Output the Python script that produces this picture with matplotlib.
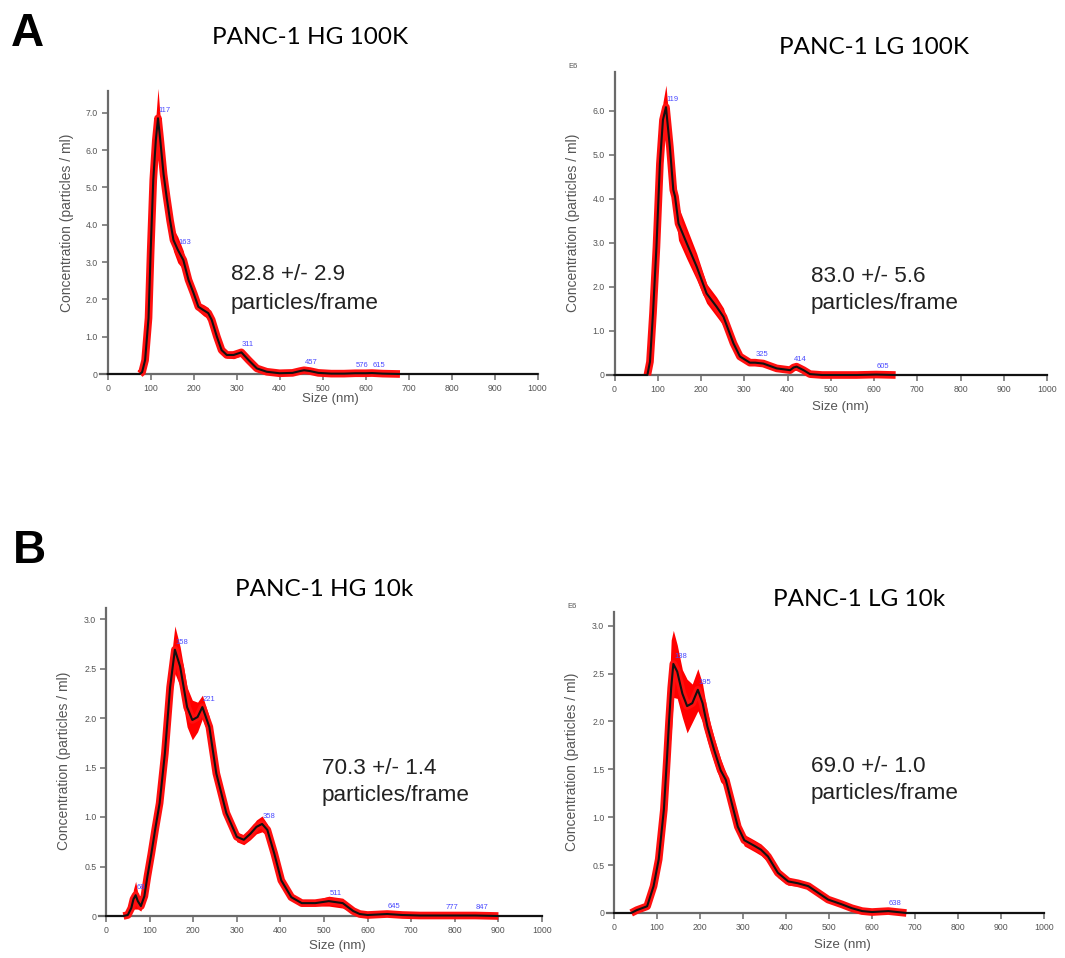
import numpy as np
import matplotlib
matplotlib.use("Agg")
import matplotlib.pyplot as plt
from matplotlib.ticker import FuncFormatter, MultipleLocator

W, H = 1065, 958

# ---------------- data ----------------
# PANC-1 HG 100K
hg100_size = [0, 60, 75, 80, 87, 95, 100, 106, 112, 117, 122, 130, 137, 145, 153, 163,
              176, 188, 200, 211, 223, 234, 242, 254, 265, 277, 293, 311, 328, 347, 370,
              400, 430, 448, 457, 470, 490, 520, 550, 576, 600, 615, 640, 680, 1000]
hg100_conc = [0, 0, 0.0, 0.05, 0.37, 1.5, 3.3, 5.2, 6.27, 6.85, 6.3, 5.35, 4.75, 4.12, 3.59, 3.33,
              3.05, 2.52, 2.16, 1.80, 1.71, 1.63, 1.45, 1.0, 0.64, 0.51, 0.51, 0.58, 0.37, 0.15, 0.06,
              0.02, 0.03, 0.08, 0.1, 0.08, 0.03, 0.01, 0.01, 0.02, 0.02, 0.025, 0.01, 0.0, 0]
hg100_err = [0, 0, 0, 0.05, 0.1, 0.15, 0.25, 0.4, 0.6, 0.8, 0.6, 0.3, 0.25, 0.25, 0.3, 0.35,
             0.25, 0.15, 0.12, 0.12, 0.15, 0.15, 0.15, 0.1, 0.08, 0.08, 0.1, 0.1, 0.08, 0.05, 0.03,
             0.02, 0.02, 0.03, 0.03, 0.03, 0.02, 0.01, 0.01, 0.01, 0.01, 0.01, 0.01, 0, 0]
hg100_peaks = [117, 163, 311, 457, 576, 615]

# PANC-1 LG 100K
lg100_size = [0, 60, 76, 82, 89, 97, 105, 112, 119, 128, 136, 140, 148, 167, 190, 213,
              236, 252, 275, 290, 313, 325, 344, 375, 406, 414, 421, 437, 452, 480, 560,
              605, 650, 1000]
lg100_conc = [0, 0, 0.0, 0.3, 1.4, 2.91, 4.8, 5.79, 6.08, 5.18, 4.2, 4.05, 3.44, 2.99, 2.46, 1.85,
              1.55, 1.32, 0.72, 0.42, 0.28, 0.28, 0.26, 0.15, 0.11, 0.17, 0.19, 0.11, 0.02, 0.0, 0.0,
              0.01, 0.0, 0]
lg100_err = [0, 0, 0, 0.08, 0.15, 0.2, 0.3, 0.4, 0.5, 0.4, 0.35, 0.35, 0.38, 0.35, 0.3, 0.22,
             0.22, 0.2, 0.1, 0.06, 0.05, 0.05, 0.05, 0.04, 0.04, 0.04, 0.04, 0.03, 0.02, 0, 0,
             0.01, 0, 0]
lg100_peaks = [119, 325, 414, 605]

# PANC-1 HG 10k
hg10_size = [0, 40, 50, 58, 63, 68, 73, 80, 88, 95, 104, 113, 123, 135, 147, 158, 170, 186,
             198, 210, 221, 237, 253, 276, 300, 316, 331, 345, 358, 370, 386, 402, 425, 449,
             480, 511, 543, 567, 582, 600, 645, 680, 720, 777, 847, 900, 1000]
hg10_conc = [0, 0, 0.01, 0.08, 0.17, 0.21, 0.15, 0.1, 0.2, 0.4, 0.63, 0.88, 1.14, 1.64, 2.31, 2.69, 2.52, 2.11,
             1.98, 2.01, 2.11, 1.91, 1.44, 1.04, 0.80, 0.77, 0.83, 0.9, 0.93, 0.87, 0.63, 0.36, 0.19, 0.13,
             0.13, 0.15, 0.13, 0.05, 0.02, 0.01, 0.02, 0.01, 0.005, 0.005, 0.005, 0.0, 0]
hg10_err = [0, 0, 0.01, 0.04, 0.1, 0.14, 0.08, 0.05, 0.05, 0.06, 0.06, 0.07, 0.08, 0.12, 0.2, 0.24, 0.2, 0.2,
            0.2, 0.15, 0.12, 0.1, 0.08, 0.06, 0.05, 0.05, 0.06, 0.07, 0.08, 0.06, 0.05, 0.04, 0.03, 0.03,
            0.03, 0.05, 0.05, 0.02, 0.01, 0.01, 0.01, 0.005, 0.005, 0.005, 0.005, 0, 0]
hg10_peaks = [68, 158, 221, 358, 511, 645, 777, 847]

# PANC-1 LG 10k
lg10_size = [0, 40, 53, 77, 92, 104, 116, 123, 128, 133, 138, 147, 159, 170, 182, 195, 206, 217,
             233, 248, 260, 272, 288, 303, 327, 342, 358, 381, 405, 428, 452, 475, 498, 530,
             553, 577, 600, 638, 680, 1000]
lg10_conc = [0, 0, 0.03, 0.07, 0.28, 0.56, 1.08, 1.6, 2.0, 2.35, 2.6, 2.52, 2.29, 2.16, 2.19, 2.33, 2.19, 1.95,
             1.70, 1.49, 1.39, 1.18, 0.90, 0.76, 0.70, 0.66, 0.59, 0.42, 0.33, 0.31, 0.28, 0.21, 0.14, 0.09,
             0.05, 0.02, 0.01, 0.02, 0.0, 0]
lg10_err = [0, 0, 0.02, 0.03, 0.05, 0.06, 0.08, 0.12, 0.3, 0.5, 0.35, 0.28, 0.25, 0.28, 0.2, 0.22, 0.2, 0.15,
            0.13, 0.12, 0.08, 0.07, 0.06, 0.06, 0.06, 0.06, 0.06, 0.05, 0.04, 0.03, 0.03, 0.03, 0.03, 0.02,
            0.02, 0.01, 0.01, 0.01, 0, 0]
lg10_peaks = [138, 195, 638]

panels = [
    dict(title="PANC-1 HG 100K", stats=("82.8 +/- 2.9", "particles/frame"),
         size=hg100_size, conc=hg100_conc, err=hg100_err, peaks=hg100_peaks, step=1.0, e6=False,
         x0=107.7, x1=537.5, y0=374, ppu=37.33, top=91,
         title_xy=(310, 37), stats_xy=(231, 275, 303), ylab=(67, 223), xlab=(330, 399)),
    dict(title="PANC-1 LG 100K", stats=("83.0 +/- 5.6", "particles/frame"),
         size=lg100_size, conc=lg100_conc, err=lg100_err, peaks=lg100_peaks, step=1.0, e6=True,
         x0=614.5, x1=1047, y0=375, ppu=44.05, top=72,
         title_xy=(874, 48), stats_xy=(811, 277, 304), ylab=(573, 223), xlab=(840, 407),
         e6_xy=(573, 67)),
    dict(title="PANC-1 HG 10k", stats=("70.3 +/- 1.4", "particles/frame"),
         size=hg10_size, conc=hg10_conc, err=hg10_err, peaks=hg10_peaks, step=0.5, e6=False,
         x0=106, x1=542, y0=916, ppu=99.0, top=608,
         title_xy=(324, 590), stats_xy=(322, 768, 795), ylab=(64, 761), xlab=(337, 946)),
    dict(title="PANC-1 LG 10k", stats=("69.0 +/- 1.0", "particles/frame"),
         size=lg10_size, conc=lg10_conc, err=lg10_err, peaks=lg10_peaks, step=0.5, e6=True,
         x0=614, x1=1044, y0=913, ppu=95.8, top=612,
         title_xy=(859, 600), stats_xy=(811, 767, 794), ylab=(572, 762), xlab=(842, 945),
         e6_xy=(572, 607)),
]

AX_GREY = "#6a6a6a"
TXT_GREY = "#555555"
XMIN = -17

fig = plt.figure(figsize=(W / 100, H / 100), dpi=100)
fig.patch.set_facecolor("white")


def fx(px):
    return px / W


def fy(py):
    return 1 - py / H


def fmt_y(v, _):
    if abs(v) < 1e-9:
        return "0"
    return f"{v:.1f}"


for p in panels:
    k = (p["x1"] - p["x0"]) / 1000.0
    left_px = p["x0"] + XMIN * k
    ytop = (p["y0"] - p["top"]) / p["ppu"]
    ax = fig.add_axes([fx(left_px), fy(p["y0"]),
                       (p["x1"] - left_px) / W, (p["y0"] - p["top"]) / H])
    ax.set_xlim(XMIN, 1000)
    ax.set_ylim(0, ytop)

    size = np.array(p["size"], float)
    conc = np.array(p["conc"], float)
    err = np.array(p["err"], float)

    # red spread of the repeat measurements, then the mean curve on top
    ax.fill_between(size, conc - err, conc + err, color="#ff0000", lw=0,
                    clip_on=False, zorder=2)
    nonzero = conc > 0
    keep = nonzero | np.r_[nonzero[1:], False] | np.r_[False, nonzero[:-1]]
    red = np.where(keep, conc, np.nan)
    ax.plot(size, red, color="#ff1010", lw=5.5, solid_capstyle="butt",
            solid_joinstyle="round", clip_on=False, zorder=3)
    ax.plot(size, conc, color="#111111", lw=1.5, solid_joinstyle="round",
            clip_on=False, zorder=4)

    for pk in p["peaks"]:
        i = p["size"].index(pk)
        ax.annotate(str(pk), (pk, p["conc"][i]), xytext=(0.5, 3),
                    textcoords="offset points", ha="left", va="bottom",
                    fontsize=5.5, color="#4a4aff", family="Liberation Sans", zorder=5)

    for s in ("top", "right"):
        ax.spines[s].set_visible(False)
    ax.spines["left"].set_position(("data", 0))
    for s in ("left", "bottom"):
        ax.spines[s].set_color(AX_GREY)
        ax.spines[s].set_linewidth(1.6)
    ax.xaxis.set_major_locator(MultipleLocator(100))
    ax.yaxis.set_major_locator(MultipleLocator(p["step"]))
    ax.yaxis.set_major_formatter(FuncFormatter(fmt_y))
    ax.tick_params(axis="both", direction="out", length=4, width=1.1, color=AX_GREY,
                   labelsize=6.3, labelcolor=TXT_GREY, pad=3)
    for lab in ax.get_xticklabels() + ax.get_yticklabels():
        lab.set_family("Liberation Sans")
    ax.patch.set_alpha(0)

    fig.text(fx(p["ylab"][0]), fy(p["ylab"][1]), "Concentration (particles / ml)",
             rotation=90, ha="center", va="center", fontsize=10, color=TXT_GREY,
             family="Liberation Sans")
    fig.text(fx(p["xlab"][0]), fy(p["xlab"][1]), "Size (nm)", ha="center", va="center",
             fontsize=9.5, color=TXT_GREY, family="Liberation Sans")
    fig.text(fx(p["title_xy"][0]), fy(p["title_xy"][1]), p["title"], ha="center",
             va="center", fontsize=17.5, color="black", family="Lato")
    sx, sy1, sy2 = p["stats_xy"]
    fig.text(fx(sx), fy(sy1), p["stats"][0], ha="left", va="center",
             fontsize=16.2, color="#222222", family="Liberation Sans")
    fig.text(fx(sx), fy(sy2), p["stats"][1], ha="left", va="center",
             fontsize=16.2, color="#222222", family="Liberation Sans")
    if p["e6"]:
        fig.text(fx(p["e6_xy"][0]), fy(p["e6_xy"][1]), "E6", ha="center", va="center",
                 fontsize=5.5, color=TXT_GREY, family="Liberation Sans")

fig.text(fx(11), fy(12), "A", ha="left", va="top", fontsize=33, fontweight="bold",
         family="Liberation Sans")
fig.text(fx(13), fy(529), "B", ha="left", va="top", fontsize=33, fontweight="bold",
         family="Liberation Sans")

fig.savefig("out.png", dpi=100)
